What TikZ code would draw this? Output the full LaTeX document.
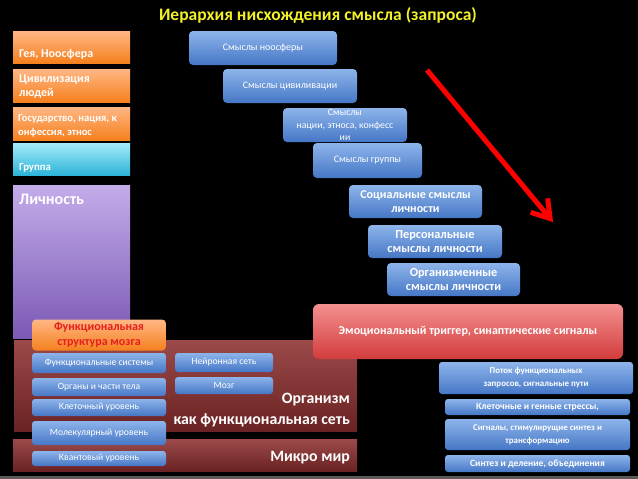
\documentclass[tikz,border=0pt]{standalone}
\usepackage{fontspec}
\setmainfont{Carlito}
\usetikzlibrary{arrows.meta}
\definecolor{bltop}{HTML}{8DB4EA}
\definecolor{blbot}{HTML}{4677C6}
\definecolor{ortop}{HTML}{FFB784}
\definecolor{orbot}{HTML}{F5801E}
\definecolor{cytop}{HTML}{A4ECFA}
\definecolor{cybot}{HTML}{2DB3D8}
\definecolor{putop}{HTML}{C3ACEA}
\definecolor{pubot}{HTML}{7A58B4}
\definecolor{brtop}{HTML}{9C4A4A}
\definecolor{brbot}{HTML}{6A2222}
\definecolor{rdtop}{HTML}{F49090}
\definecolor{rdbot}{HTML}{D23C3C}
\definecolor{titley}{HTML}{F2F02A}
\tikzset{
  bluebox/.style={rounded corners=4pt, top color=bltop, bottom color=blbot, draw=none,
    text=white, align=center, inner sep=1pt, font=\fontsize{10}{12.5}\selectfont},
  smallblue/.style={bluebox, rounded corners=3pt, font=\fontsize{9.6}{11}\selectfont},
  rightblue/.style={bluebox, rounded corners=3pt, font=\bfseries\fontsize{9.6}{11}\selectfont},
  leftlabel/.style={text=white, font=\bfseries\fontsize{12}{14}\selectfont, anchor=base west, align=left, inner sep=0pt},
  bigwhite/.style={text=white, font=\bfseries\fontsize{15.8}{18}\selectfont, anchor=east, inner sep=0pt},
}
\begin{document}
\begin{tikzpicture}[x=1pt,y=-1pt]
\fill[black] (0,0) rectangle (638,479);
\useasboundingbox (0,0) rectangle (638,479);
\fill[color={rgb,255:red,90;green,90;blue,90}] (0,476) rectangle (638,479);

% title
\node[text=titley, font=\bfseries\fontsize{17.5}{20}\selectfont] (title) at (318,15) {Иерархия нисхождения смысла (запроса)};

% left column
\shade[top color=ortop, bottom color=orbot] (13,31) rectangle (130,63);
\node[leftlabel] (gea) at (19,57) {Гея, Ноосфера};
\shade[top color=ortop, bottom color=orbot] (13,69) rectangle (130,102);
\node[leftlabel] (civ1) at (19,82) {Цивилизация};
\node[leftlabel] (civ2) at (19,96) {людей};
\shade[top color=ortop, bottom color=orbot] (13,107) rectangle (130,140);
\node[leftlabel, font=\bfseries\fontsize{10.6}{13}\selectfont] (gos1) at (18,121.5) {Государство, нация, к};
\node[leftlabel, font=\bfseries\fontsize{10.6}{13}\selectfont] (gos2) at (18,135.5) {онфессия, этнос};
\shade[top color=cytop, bottom color=cybot] (13,143) rectangle (130,175);
\node[leftlabel, font=\bfseries\fontsize{10.8}{13}\selectfont] (grp) at (19,170) {Группа};
\shade[top color=putop, bottom color=pubot] (13,185) rectangle (130,340);
\node[leftlabel, font=\bfseries\fontsize{16}{18}\selectfont] (lich) at (19,204.5) {Личность};

% bands
\shade[top color=brtop, bottom color=brbot, draw=black, line width=0.6pt] (13,339) rectangle (357,432);
\shade[top color=brtop, bottom color=brbot] (13,439) rectangle (357,471);
\node[bigwhite] (org1) at (350,400) {Организм};
\node[bigwhite] (org2) at (350,420) {как функциональная сеть};
\node[bigwhite] (micro) at (350,458) {Микро мир};

% brain structure
\node[rounded corners=4pt, top color=ortop, bottom color=orbot, text={rgb,255:red,230;green,30;blue,30},
  font=\bfseries\fontsize{12}{15.5}\selectfont, align=center, minimum width=134pt, minimum height=31pt, inner sep=0pt]
  (fsm) at (99,335) {Функциональная\\структура мозга};
\node[smallblue, minimum width=134pt, minimum height=20pt] (fs) at (99,363) {Функциональные системы};
\node[smallblue, minimum width=134pt, minimum height=18pt] (oc) at (99,387) {Органы и части тела};
\node[smallblue, minimum width=134pt, minimum height=17pt] (kl) at (99,407.5) {Клеточный уровень};
\node[smallblue, minimum width=134pt, minimum height=24pt] (mol) at (99,433) {Молекулярный уровень};
\node[smallblue, minimum width=134pt, minimum height=15pt] (kv) at (99,458.5) {Квантовый уровень};
\node[smallblue, minimum width=98pt, minimum height=19pt] (ns) at (224,362.5) {Нейронная сеть};
\node[smallblue, minimum width=98pt, minimum height=17pt] (mz) at (224,385.5) {Мозг};

% cascade
\node[bluebox, minimum width=148pt, minimum height=34pt] (n1) at (263,48) {Смыслы ноосферы};
\node[bluebox, minimum width=134pt, minimum height=34pt] (n2) at (290,86) {Смыслы цивиливации};
\node[bluebox, minimum width=124pt, minimum height=34pt, font=\fontsize{9.8}{12.5}\selectfont] (n3) at (345,125) {Смыслы\\нации, этноса, конфесс\\ии};
\node[bluebox, minimum width=109pt, minimum height=35pt] (n4) at (367.5,160.5) {Смыслы группы};
\node[bluebox, minimum width=133pt, minimum height=33pt, font=\bfseries\fontsize{12}{14.5}\selectfont] (n5) at (415.5,201.5) {Социальные смыслы\\личности};
\node[bluebox, minimum width=134pt, minimum height=33pt, font=\bfseries\fontsize{12.3}{14.5}\selectfont] (n6) at (435,241.5) {Персональные\\смыслы личности};
\node[bluebox, minimum width=133pt, minimum height=33pt, font=\bfseries\fontsize{12.3}{14.5}\selectfont] (n7) at (453.5,279.5) {Организменные\\смыслы личности};
\node[rounded corners=6pt, top color=rdtop, bottom color=rdbot, text=white, minimum width=310pt, minimum height=55pt,
  font=\bfseries\fontsize{12}{14}\selectfont, inner sep=0pt] (emo) at (468,331.5) {Эмоциональный триггер, синаптические сигналы};

% right column
\node[rightblue, minimum width=194pt, minimum height=32pt, font=\bfseries\fontsize{8.9}{13}\selectfont] (p1) at (536,378) {Поток функциональных\\запросов, сигнальные пути};
\node[rightblue, minimum width=185pt, minimum height=16pt] (p2) at (537.5,407) {Клеточные и генные стрессы,};
\node[rightblue, minimum width=185pt, minimum height=31pt, font=\bfseries\fontsize{8.9}{13}\selectfont] (p3) at (537.5,434.5) {Сигналы, стимулирущие синтез и\\трансформацию};
\node[rightblue, minimum width=185pt, minimum height=17pt] (p4) at (537.5,463.5) {Синтез и деление, объединения};

% arrow
\coordinate (a0) at (427,70);
\coordinate (a1) at (553,222);
\draw[red, line width=5pt, -{Straight Barb[length=17pt, width=22pt, line width=5pt]}] (a0) -- (a1);
\end{tikzpicture}
\end{document}
